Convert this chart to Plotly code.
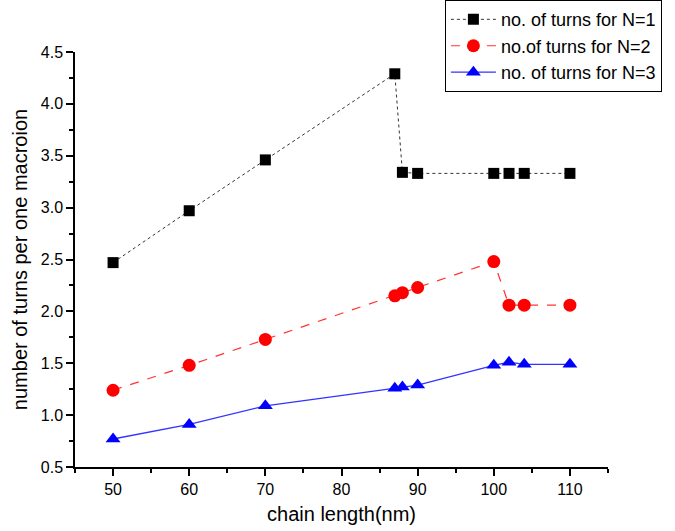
import plotly.graph_objects as go

chain_length = [50, 60, 70, 87, 88, 90, 100, 102, 104, 110]
turns_n1 = [2.47, 2.97, 3.46, 4.29, 3.34, 3.33, 3.33, 3.33, 3.33, 3.33]
turns_n2 = [1.24, 1.48, 1.73, 2.15, 2.18, 2.23, 2.48, 2.06, 2.06, 2.06]
turns_n3 = [0.77, 0.91, 1.09, 1.26, 1.27, 1.29, 1.48, 1.51, 1.49, 1.49]
series_names = ["no. of turns for N=1", "no.of turns for N=2", "no. of turns for N=3"]

fig = go.Figure()
fig.add_trace(go.Scatter(
    x=chain_length, y=turns_n1, name=series_names[0], mode="lines+markers",
    line=dict(color="#333333", width=1, dash="dot"),
    marker=dict(symbol="square", size=11, color="black")))
fig.add_trace(go.Scatter(
    x=chain_length, y=turns_n2, name=series_names[1], mode="lines+markers",
    line=dict(color="#ff3333", width=1.2, dash="dash"),
    marker=dict(symbol="circle", size=13, color="#ff0000")))
fig.add_trace(go.Scatter(
    x=chain_length, y=turns_n3, name=series_names[2], mode="lines+markers",
    line=dict(color="#3333ff", width=1.3),
    marker=dict(symbol="triangle-up", size=13, color="#0000ff")))

axis_font = dict(family="Liberation Sans, Arial", size=16, color="black")
fig.update_layout(
    width=675, height=531,
    margin=dict(l=75, r=67, t=52, b=64, autoexpand=False),
    paper_bgcolor="white", plot_bgcolor="white",
    font=dict(family="Liberation Sans, Arial", color="black"),
    legend=dict(x=0.694, y=1.125, xanchor="left", yanchor="top",
                bordercolor="black", borderwidth=1, bgcolor="white",
                font=dict(size=18), tracegroupgap=0, itemwidth=45),
    xaxis=dict(range=[45, 115], tick0=50, dtick=10, showgrid=False, zeroline=False,
               showline=True, linecolor="black", linewidth=1.5,
               ticks="outside", ticklen=7, tickwidth=1.5, tickcolor="black",
               tickfont=axis_font,
               minor=dict(ticks="outside", dtick=5, tick0=45, ticklen=4, tickcolor="black", tickwidth=1.5),
               title=dict(text="chain length(nm)", font=dict(size=20), standoff=10)),
    yaxis=dict(range=[0.5, 4.5], tick0=0.5, dtick=0.5, showgrid=False, zeroline=False,
               showline=True, linecolor="black", linewidth=1.5,
               ticks="outside", ticklen=7, tickwidth=1.5, tickcolor="black",
               tickfont=axis_font, tickformat=".1f",
               minor=dict(ticks="outside", dtick=0.25, ticklen=4, tickcolor="black", tickwidth=1.5),
               title=dict(text="number of turns per one macroion", font=dict(size=20), standoff=8)),
)
fig.write_html("out.html")
